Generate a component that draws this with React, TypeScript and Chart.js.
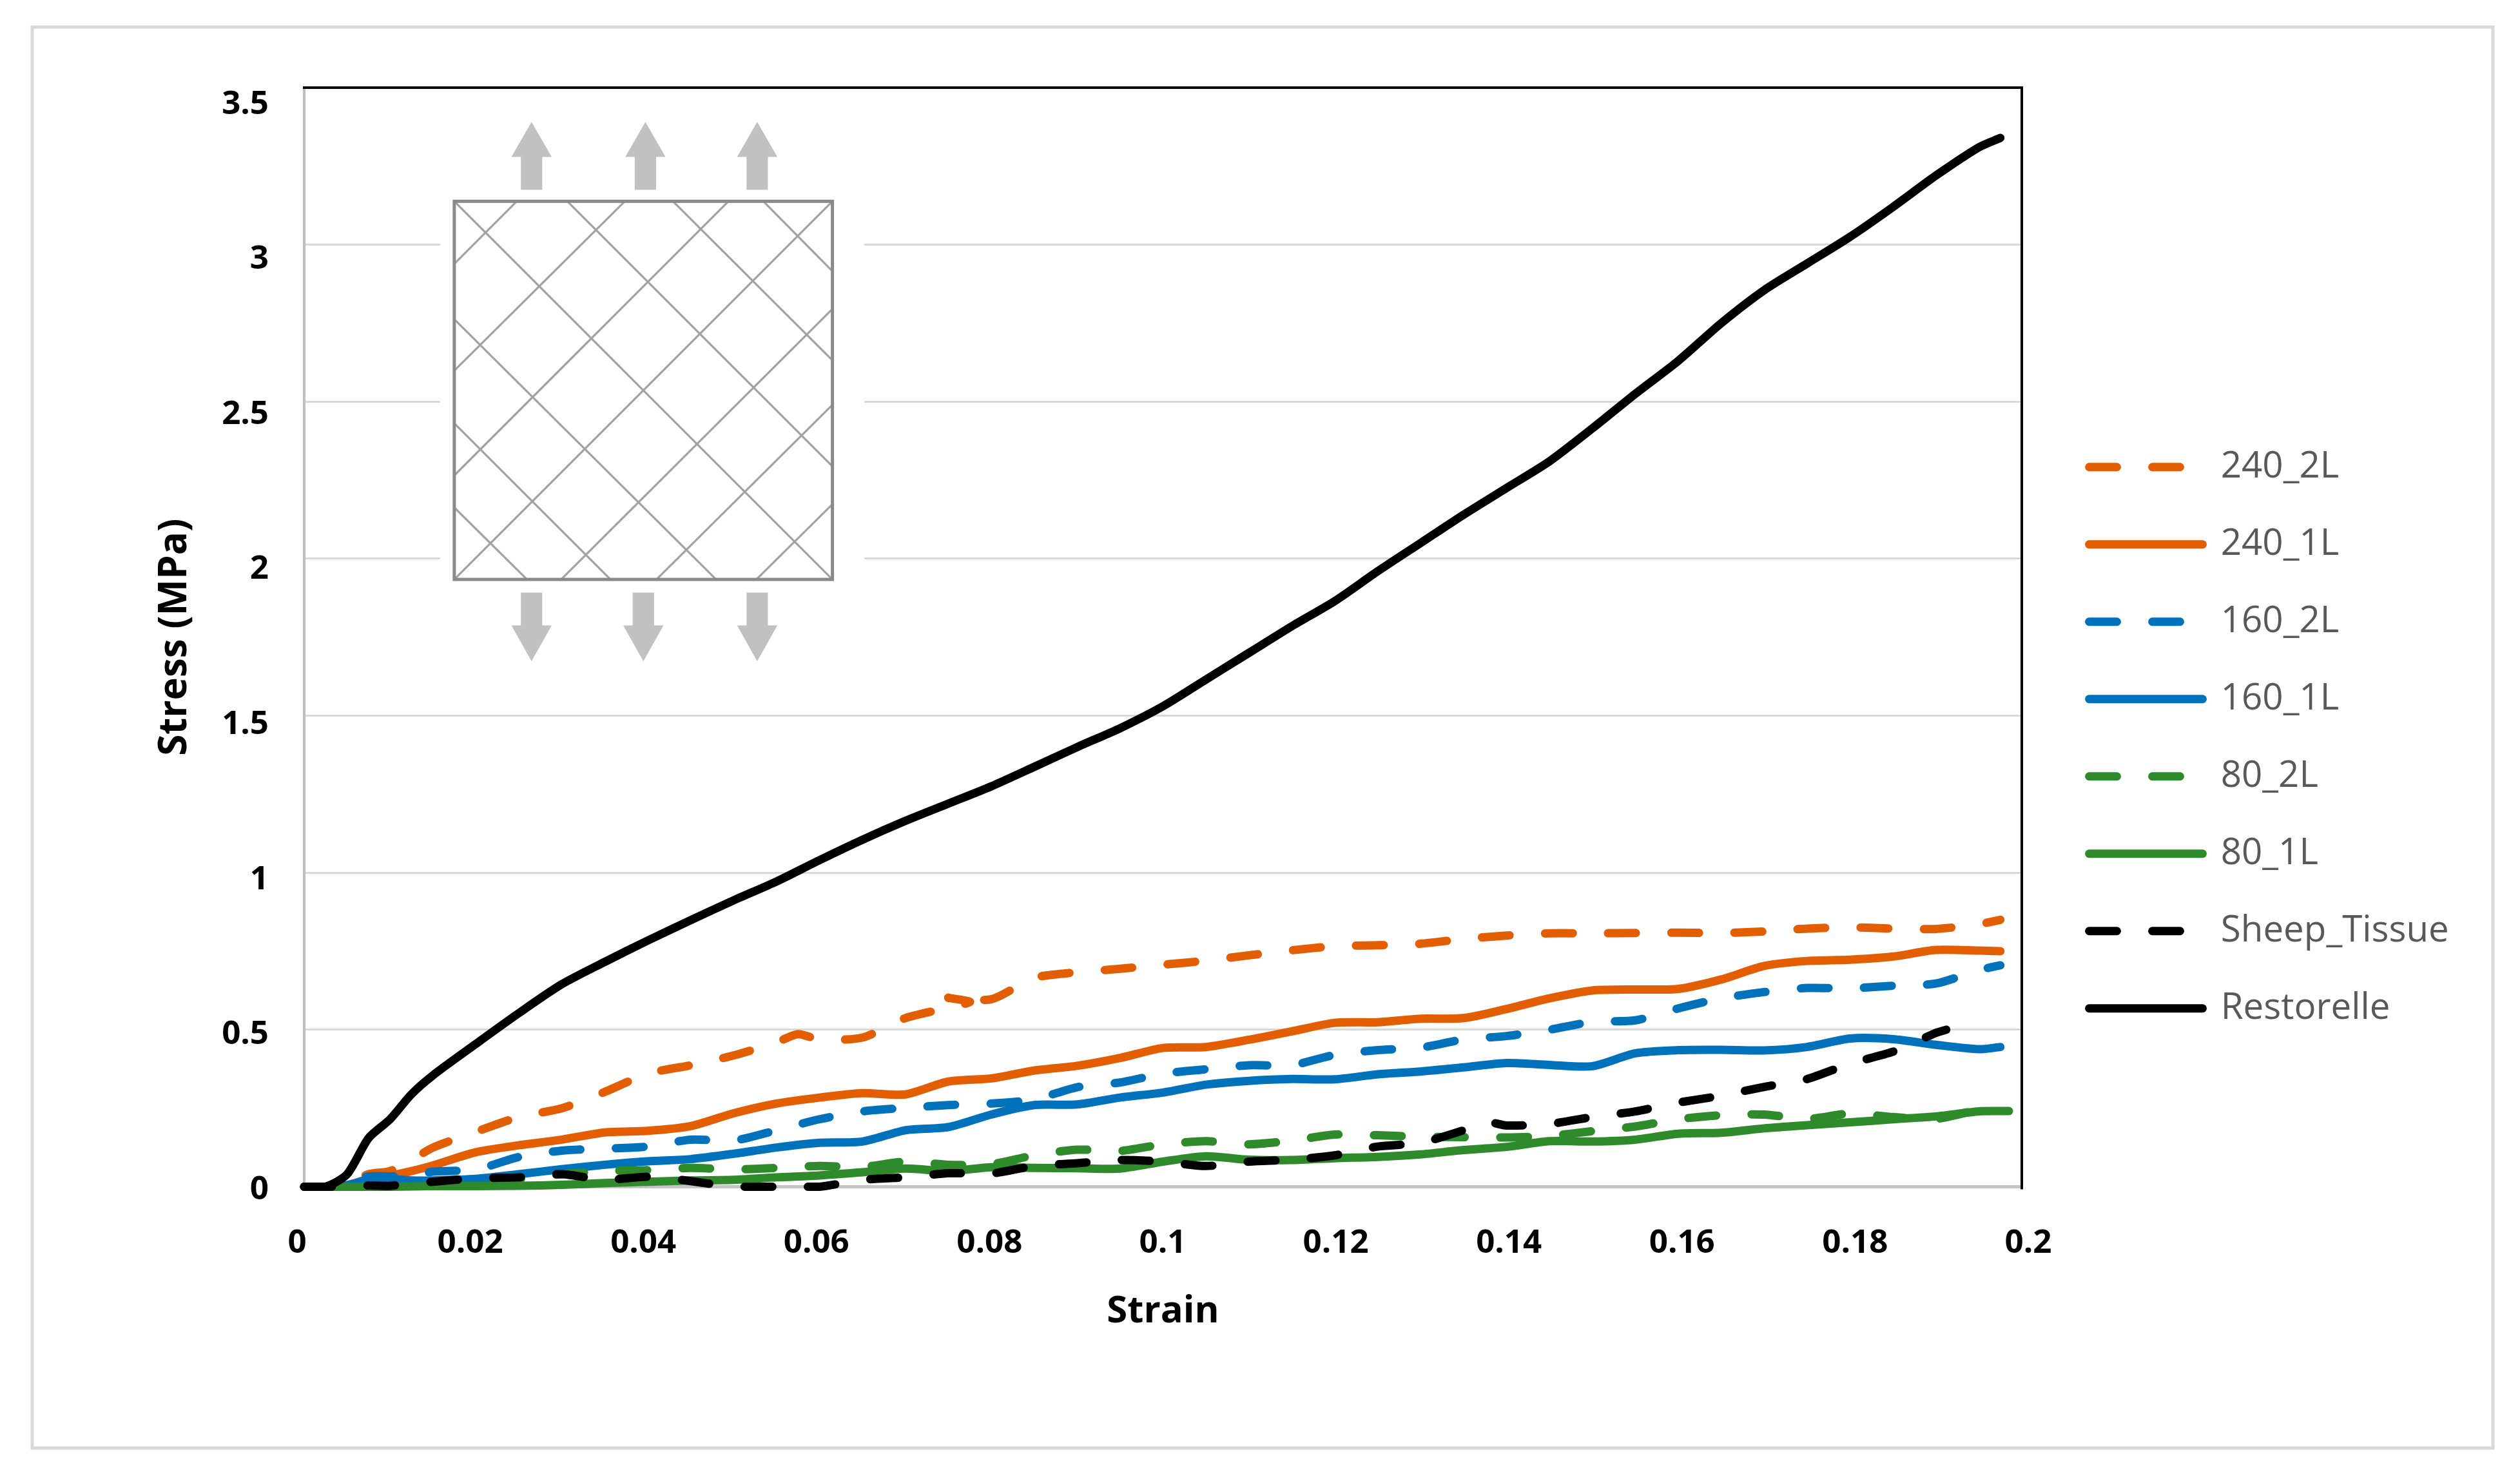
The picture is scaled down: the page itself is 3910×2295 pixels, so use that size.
import React, { useEffect, useRef } from "react";
import { Chart, registerables } from "chart.js";

Chart.register(...registerables);

const WIDTH = 3910;
const HEIGHT = 2295;
const FONT = "'Open Sans', sans-serif";

// Strain values shared by the series
const strain = [
  0, 0.0025, 0.005, 0.0075, 0.01, 0.0125, 0.015, 0.02, 0.025, 0.03, 0.035, 0.04, 0.045, 0.05, 0.055, 0.06, 0.065,
  0.07, 0.075, 0.08, 0.085, 0.09, 0.095, 0.1, 0.105, 0.11, 0.115, 0.12, 0.125, 0.13, 0.135, 0.14, 0.145, 0.15,
  0.155, 0.16, 0.165, 0.17, 0.175, 0.18, 0.185, 0.19, 0.195, 0.1975,
];
// Some series carry extra readings at local humps, or end elsewhere
const strain240_2L = [...strain.slice(0, 15), 0.0575, ...strain.slice(15, 18), 0.0775, ...strain.slice(18)];
const strain80_1L = [...strain, 0.1985];
const strainSheep = [...strain.slice(0, 31), 0.1375, ...strain.slice(31, 41), 0.19, 0.1912];

const s240_2L = [
  0, 0, 0.01, 0.04, 0.05, 0.085, 0.125, 0.175, 0.222, 0.25, 0.302, 0.36, 0.387, 0.418, 0.46, 0.486, 0.469, 0.475,
  0.537, 0.588, 0.602, 0.597, 0.665, 0.683, 0.694, 0.707, 0.72, 0.737, 0.753, 0.766, 0.769, 0.774, 0.789, 0.8,
  0.807, 0.807, 0.808, 0.809, 0.808, 0.813, 0.822, 0.826, 0.822, 0.821, 0.836, 0.85,
];
const s240_1L = [
  0, 0, 0.005, 0.025, 0.035, 0.05, 0.068, 0.11, 0.132, 0.15, 0.173, 0.178, 0.193, 0.234, 0.265, 0.284, 0.298, 0.294,
  0.335, 0.345, 0.37, 0.385, 0.41, 0.442, 0.445, 0.468, 0.495, 0.522, 0.524, 0.535, 0.537, 0.566, 0.6, 0.625, 0.628,
  0.63, 0.66, 0.703, 0.719, 0.723, 0.733, 0.754, 0.752, 0.75,
];
const s160_2L = [
  0, 0, 0.02, 0.033, 0.033, 0.035, 0.048, 0.055, 0.095, 0.115, 0.121, 0.128, 0.15, 0.147, 0.18, 0.215, 0.24, 0.251,
  0.26, 0.265, 0.278, 0.317, 0.332, 0.36, 0.374, 0.387, 0.387, 0.42, 0.435, 0.443, 0.469, 0.48, 0.5, 0.525, 0.53,
  0.568, 0.6, 0.62, 0.633, 0.632, 0.64, 0.647, 0.69, 0.705,
];
const s160_1L = [
  0, 0, 0.005, 0.022, 0.024, 0.02, 0.02, 0.025, 0.04, 0.056, 0.07, 0.081, 0.088, 0.105, 0.125, 0.14, 0.144, 0.18,
  0.19, 0.23, 0.26, 0.262, 0.284, 0.3, 0.325, 0.337, 0.343, 0.342, 0.358, 0.367, 0.38, 0.394, 0.388, 0.384, 0.425,
  0.435, 0.436, 0.434, 0.445, 0.472, 0.47, 0.452, 0.438, 0.445,
];
const s80_2L = [
  0, 0, 0, 0, 0.002, 0.005, 0.01, 0.015, 0.025, 0.04, 0.05, 0.053, 0.06, 0.055, 0.06, 0.066, 0.063, 0.08, 0.07,
  0.072, 0.1, 0.118, 0.114, 0.135, 0.145, 0.135, 0.147, 0.166, 0.164, 0.159, 0.158, 0.157, 0.162, 0.177, 0.192,
  0.215, 0.228, 0.23, 0.216, 0.233, 0.222, 0.216, 0.246, 0.261,
];
const s80_1L = [
  0, 0, 0, 0, 0, 0.001, 0.002, 0.002, 0.003, 0.006, 0.012, 0.016, 0.02, 0.022, 0.03, 0.036, 0.046, 0.058, 0.05,
  0.062, 0.06, 0.059, 0.058, 0.08, 0.097, 0.086, 0.085, 0.091, 0.095, 0.103, 0.117, 0.127, 0.145, 0.144, 0.15,
  0.169, 0.172, 0.186, 0.196, 0.205, 0.215, 0.224, 0.24, 0.241, 0.241,
];
const sSheep = [
  0, 0, 0, 0.004, 0.003, 0.012, 0.016, 0.027, 0.03, 0.04, 0.022, 0.032, 0.018, 0, 0, 0, 0.022, 0.03, 0.043, 0.042,
  0.066, 0.075, 0.085, 0.08, 0.066, 0.08, 0.086, 0.1, 0.128, 0.14, 0.18, 0.207, 0.195, 0.2, 0.222, 0.24, 0.268, 0.29,
  0.318, 0.343, 0.392, 0.43, 0.49, 0.5,
];
const sRestorelle = [
  0, 0, 0.04, 0.155, 0.215, 0.295, 0.355, 0.455, 0.553, 0.645, 0.716, 0.784, 0.849, 0.912, 0.972, 1.04, 1.105, 1.165,
  1.22, 1.275, 1.337, 1.4, 1.46, 1.53, 1.615, 1.7, 1.785, 1.865, 1.96, 2.05, 2.14, 2.225, 2.31, 2.415, 2.525, 2.63,
  2.75, 2.855, 2.94, 3.025, 3.12, 3.22, 3.31, 3.34,
];

const xTicks = [0, 0.02, 0.04, 0.06, 0.08, 0.1, 0.12, 0.14, 0.16, 0.18, 0.2];
const yTicks = [0, 0.5, 1, 1.5, 2, 2.5, 3, 3.5];

const ORANGE = "#e25e00";
const BLUE = "#0071bb";
const GREEN = "#2e8a2a";
const BLACK = "#000000";
const DASH = [43, 55];

const series = [
  { label: "240_2L", xs: strain240_2L, ys: s240_2L, color: ORANGE, dash: DASH },
  { label: "240_1L", xs: strain, ys: s240_1L, color: ORANGE, dash: [] },
  { label: "160_2L", xs: strain, ys: s160_2L, color: BLUE, dash: DASH },
  { label: "160_1L", xs: strain, ys: s160_1L, color: BLUE, dash: [] },
  { label: "80_2L", xs: strain, ys: s80_2L, color: GREEN, dash: DASH },
  { label: "80_1L", xs: strain80_1L, ys: s80_1L, color: GREEN, dash: [] },
  { label: "Sheep_Tissue", xs: strainSheep, ys: sSheep, color: BLACK, dash: DASH },
  { label: "Restorelle", xs: strain, ys: sRestorelle, color: BLACK, dash: [] },
];

// Inset sketch of the mesh, in its own drawing units
const meshBox = [478, 333, 1398, 1253];
const meshLines = [
  [478, 485, 630, 333], [478, 745, 893, 333], [478, 1000, 1145, 333], [478, 1253, 1398, 333],
  [738, 1253, 1398, 595], [970, 1253, 1398, 828], [1213, 1253, 1398, 1070],
  [478, 333, 1398, 1253], [753, 333, 1398, 978], [1010, 333, 1398, 720], [1230, 333, 1398, 503],
  [478, 620, 1115, 1253], [478, 873, 858, 1253], [478, 1078, 655, 1253],
];
const upArrows = [666, 943, 1215];
const downArrows = [666, 938, 1215];

const insetPlugin = {
  id: "inset",
  beforeDraw(chart: any) {
    const c = chart.ctx;
    c.save();
    c.fillStyle = "#ffffff";
    c.fillRect(0, 0, WIDTH, HEIGHT);
    c.strokeStyle = "#d9d9d9";
    c.lineWidth = 5;
    c.strokeRect(50, 42, 3818, 2205);
    c.restore();
  },
  beforeDatasetsDraw(chart: any) {
    const c = chart.ctx;
    const { left, right, top, bottom } = chart.chartArea;
    const px = (v: number) => 400 + v / 1.568;
    const py = (v: number) => 100 + v / 1.568;
    c.save();
    c.fillStyle = "#ffffff";
    c.fillRect(683, 150, 658, 900);

    c.strokeStyle = "#a2a2a2";
    c.lineWidth = 3.2;
    meshLines.forEach(([a, b, d, e]) => {
      c.beginPath();
      c.moveTo(px(a), py(b));
      c.lineTo(px(d), py(e));
      c.stroke();
    });
    c.strokeStyle = "#8a8a8a";
    c.lineWidth = 5;
    c.strokeRect(px(meshBox[0]), py(meshBox[1]), px(meshBox[2]) - px(meshBox[0]), py(meshBox[3]) - py(meshBox[1]));

    c.fillStyle = "#c1c1c1";
    const arrow = (x: number, tip: number, base: number, tail: number) => {
      c.beginPath();
      c.moveTo(px(x), py(tip));
      c.lineTo(px(x + 49), py(base));
      c.lineTo(px(x + 26), py(base));
      c.lineTo(px(x + 26), py(tail));
      c.lineTo(px(x - 26), py(tail));
      c.lineTo(px(x - 26), py(base));
      c.lineTo(px(x - 49), py(base));
      c.closePath();
      c.fill();
    };
    upArrows.forEach((x) => arrow(x, 140, 225, 305));
    downArrows.forEach((x) => arrow(x, 1452, 1365, 1285));

    c.strokeStyle = "#000000";
    c.lineWidth = 4;
    c.beginPath();
    c.moveTo(left - 2, top);
    c.lineTo(right, top);
    c.lineTo(right, bottom + 4);
    c.stroke();
    c.restore();
  },
  afterLayout(chart: any) {
    const lg = chart.legend;
    lg.left = 3178;
    lg.right = 3900;
    lg.top = 633;
    lg.bottom = 1710;
  },
};

export default function App() {
  const ref = useRef<HTMLCanvasElement | null>(null);

  useEffect(() => {
    if (!ref.current) return;
    const tickFont = { family: FONT, size: 51, weight: "bold" as const };
    const xTitleFont = { family: FONT, size: 58, weight: "bold" as const };
    const yTitleFont = { family: FONT, size: 60, weight: "bold" as const };
    const chart = new Chart(ref.current, {
      type: "line",
      plugins: [insetPlugin],
      data: {
        datasets: series.map((s, i) => ({
          label: s.label,
          data: s.ys.map((y, k) => ({ x: s.xs[k], y })),
          borderColor: s.color,
          backgroundColor: s.color,
          borderDash: s.dash,
          borderWidth: 13,
          borderCapStyle: "round",
          borderJoinStyle: "round",
          pointRadius: 0,
          tension: 0.25,
          fill: false,
          clip: false,
          order: series.length - i,
          xAxisID: "x",
          yAxisID: "y",
        })) as any,
      },
      options: {
        animation: false,
        responsive: false,
        devicePixelRatio: 1,
        layout: { autoPadding: false, padding: { left: 0, top: 136, right: 773, bottom: 0 } },
        plugins: {
          title: { display: false },
          tooltip: { enabled: false },
          legend: {
            display: true,
            position: "chartArea" as any,
            align: "start",
            labels: {
              font: { family: FONT, size: 56.5 },
              color: "#595959",
              padding: 63.5,
              usePointStyle: true,
              pointStyle: "line",
              pointStyleWidth: 176,
              generateLabels: () =>
                series.map((s) => ({
                  text: s.label,
                  fillStyle: s.color,
                  strokeStyle: s.color,
                  fontColor: "#595959",
                  lineWidth: 13,
                  lineCap: "round",
                  lineDash: s.dash,
                  pointStyle: "line",
                })) as any,
            },
          },
        },
        scales: {
          x: {
            type: "linear",
            position: "bottom",
            min: 0,
            max: 0.2,
            weight: 0,
            grid: { display: false },
            border: { display: true, color: "#c4c4c4", width: 5 },
            ticks: { display: false },
            afterFit: (s: any) => { s.height = 0; },
          },
          y: {
            type: "linear",
            position: "left",
            min: 0,
            max: 3.5,
            weight: 0,
            grid: { display: true, color: "#d9d9d9", lineWidth: 3, drawTicks: false },
            border: { display: true, color: "#bfbfbf", width: 4 },
            ticks: { display: false, stepSize: 0.5 },
            afterFit: (s: any) => { s.width = 0; },
          },
          xLabels: {
            type: "linear",
            position: "bottom",
            min: 0.00082,
            max: 0.19926,
            weight: 1,
            grid: { display: false },
            border: { display: false },
            title: { display: true, text: "Strain", color: "#000000", font: xTitleFont, padding: { top: 0, bottom: 225 } },
            ticks: {
              color: "#000000",
              font: tickFont,
              padding: 49,
              autoSkip: false,
              maxRotation: 0,
              callback: (v: any) => String(+Number(v).toFixed(2)),
            },
            afterBuildTicks: (s: any) => { s.ticks = xTicks.map((value) => ({ value })); },
            afterFit: (s: any) => { s.height = 453.5; },
          },
          yLabels: {
            type: "linear",
            position: "left",
            min: 0,
            max: 3.5436,
            weight: 1,
            grid: { display: false },
            border: { display: false },
            title: { display: true, text: "Stress (MPa)", color: "#000000", font: yTitleFont, padding: { top: 236, bottom: 0 } },
            ticks: {
              color: "#000000",
              font: tickFont,
              padding: 47,
              labelOffset: 5,
              crossAlign: "near",
              callback: (v: any) => String(+Number(v).toFixed(1)),
            },
            afterBuildTicks: (s: any) => { s.ticks = yTicks.map((value) => ({ value })); },
            afterFit: (s: any) => { s.width = 472; },
          },
        },
      } as any,
    });
    return () => chart.destroy();
  }, []);

  return (
    <div style={{ position: "absolute", left: 0, top: 0, width: WIDTH, height: HEIGHT, overflow: "hidden", background: "#fff" }}>
      <canvas ref={ref} width={WIDTH} height={HEIGHT} style={{ display: "block", width: WIDTH, height: HEIGHT }} />
    </div>
  );
}
